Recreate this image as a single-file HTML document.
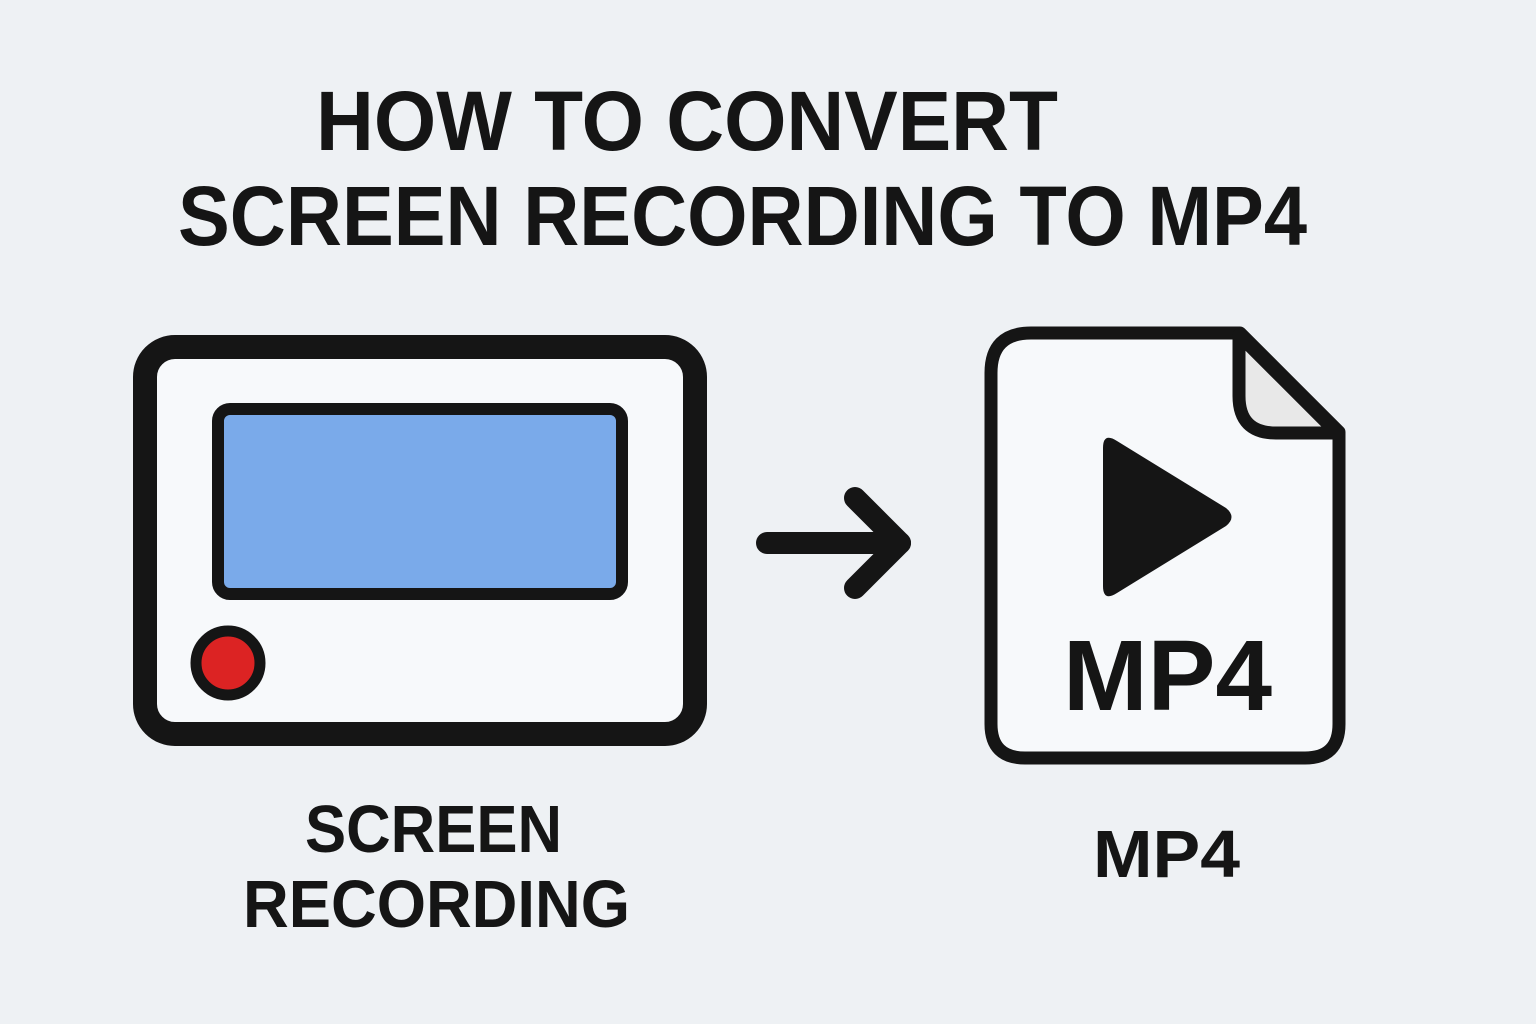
<!DOCTYPE html>
<html><head><meta charset="utf-8"><style>
html,body{margin:0;padding:0;background:#eef1f4;}
svg{display:block}
text{font-family:"Liberation Sans",Arial,sans-serif;font-weight:bold;fill:#151515}
</style></head><body>
<svg width="1536" height="1024" viewBox="0 0 1536 1024">
<rect width="1536" height="1024" fill="#eef1f4"/>
<text x="316" y="150" font-size="84" textLength="742" lengthAdjust="spacingAndGlyphs">HOW TO CONVERT</text>
<text x="178" y="245" font-size="84" textLength="1129" lengthAdjust="spacingAndGlyphs">SCREEN RECORDING TO MP4</text>

<rect x="145" y="347" width="550" height="387" rx="30" fill="#f7f9fb" stroke="#151515" stroke-width="24"/>
<rect x="218" y="409" width="404" height="185" rx="12" fill="#7aaaea" stroke="#151515" stroke-width="12"/>
<circle cx="228" cy="663" r="32" fill="#dc2323" stroke="#151515" stroke-width="11"/>

<line x1="767" y1="543" x2="900" y2="543" stroke="#151515" stroke-width="22" stroke-linecap="round"/>
<polyline points="855,498 900,543 855,588" fill="none" stroke="#151515" stroke-width="22" stroke-linecap="round" stroke-linejoin="round"/>

<path d="M1031,333 H1240 L1339,432 V724 Q1339,758 1305,758 H1025 Q991,758 991,724 V373 Q991,333 1031,333 Z" fill="#f7f9fb" stroke="#151515" stroke-width="13" stroke-linejoin="round"/>
<path d="M1239,335 V396 Q1239,433 1276,433 H1337 Z" fill="#e8e8e8" stroke="#151515" stroke-width="13" stroke-linejoin="round"/>
<path d="M1103,448 Q1103,432 1117,441 L1226,508 Q1237,517 1226,526 L1117,593 Q1103,602 1103,586 Z" fill="#151515"/>
<text x="1063" y="710" font-size="100" textLength="209" lengthAdjust="spacingAndGlyphs">MP4</text>

<text x="305" y="852" font-size="67" textLength="257" lengthAdjust="spacingAndGlyphs">SCREEN</text>
<text x="243" y="927" font-size="67" textLength="387" lengthAdjust="spacingAndGlyphs">RECORDING</text>
<text x="1093" y="877" font-size="67" textLength="147" lengthAdjust="spacingAndGlyphs">MP4</text>
</svg>
</body></html>
